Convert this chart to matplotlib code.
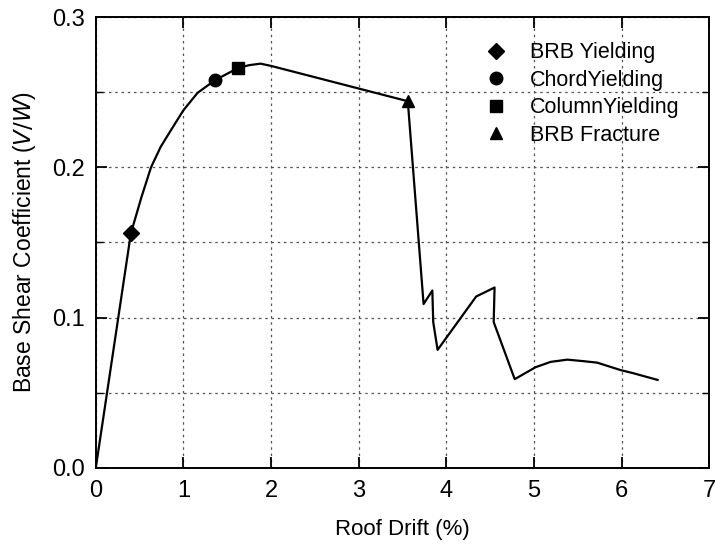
import numpy as np
import matplotlib
matplotlib.use("Agg")
import matplotlib.pyplot as plt
from matplotlib.lines import Line2D
from matplotlib.ticker import MultipleLocator

plt.rcParams['font.family'] = ['Liberation Sans', 'DejaVu Sans']

# pushover curve
drift = [0.0, 0.40, 0.52, 0.63, 0.74, 0.86, 1.00, 1.16, 1.36, 1.62, 1.75, 1.88, 2.00,
         3.56, 3.74, 3.84, 3.85, 3.90, 4.34, 4.55, 4.54, 4.78, 5.02, 5.19, 5.38,
         5.56, 5.72, 5.99, 6.13, 6.41]
shear = [0.0, 0.156, 0.180, 0.200, 0.2136, 0.225, 0.238, 0.2495, 0.258, 0.266, 0.268, 0.269, 0.2675,
         0.244, 0.109, 0.118, 0.097, 0.0785, 0.114, 0.120, 0.097, 0.059, 0.067, 0.0705, 0.072,
         0.071, 0.070, 0.065, 0.063, 0.0585]

events = ['BRB Yielding', 'ChordYielding', 'ColumnYielding', 'BRB Fracture']
event_x = [0.40, 1.36, 1.62, 3.56]
event_y = [0.156, 0.258, 0.266, 0.244]
event_mk = ['D', 'o', 's', '^']

fig = plt.figure(figsize=(7.15, 5.51), dpi=100)
ax = fig.add_axes([0.134, 0.151, 0.858, 0.818])

ax.plot(drift, shear, color='black', lw=1.6, zorder=3)
for x, y, m in zip(event_x, event_y, event_mk):
    ax.plot(x, y, marker=m, color='black', ms=9 if m != 'D' else 8, ls='none', zorder=4)

ax.set_xlim(0, 7)
ax.set_ylim(0, 0.3)
ax.xaxis.set_major_locator(MultipleLocator(1))
ax.yaxis.set_major_locator(MultipleLocator(0.1))
ax.yaxis.set_minor_locator(MultipleLocator(0.05))
ax.set_yticklabels(['%.1f' % v for v in ax.get_yticks()])

ax.grid(True, which='both', color='#555555', lw=0.9, ls=(0, (2, 3)))
ax.tick_params(which='both', direction='in', top=True, right=True, labelsize=17)
ax.tick_params(axis='x', pad=9)
ax.tick_params(axis='y', pad=8)
ax.tick_params(which='major', length=8, width=1.3)
ax.tick_params(which='minor', length=5, width=1.0)
for s in ax.spines.values():
    s.set_linewidth(1.4)

ax.set_xlabel('Roof Drift (%)', fontsize=16, labelpad=12)
ax.set_ylabel('Base Shear Coefficient ($\\it{V/W}$)', fontsize=16.5, labelpad=10)

handles = [Line2D([], [], marker=m, color='black', ls='none', ms=9 if m != 'D' else 8)
           for m in event_mk]
ax.legend(handles, events, loc='upper left', frameon=False, fontsize=15.5,
          labelspacing=0.3, handlelength=2.0, handletextpad=0.55, borderpad=0,
          borderaxespad=0, bbox_to_anchor=(0.618, 0.944))

fig.savefig('out.png', dpi=100)
